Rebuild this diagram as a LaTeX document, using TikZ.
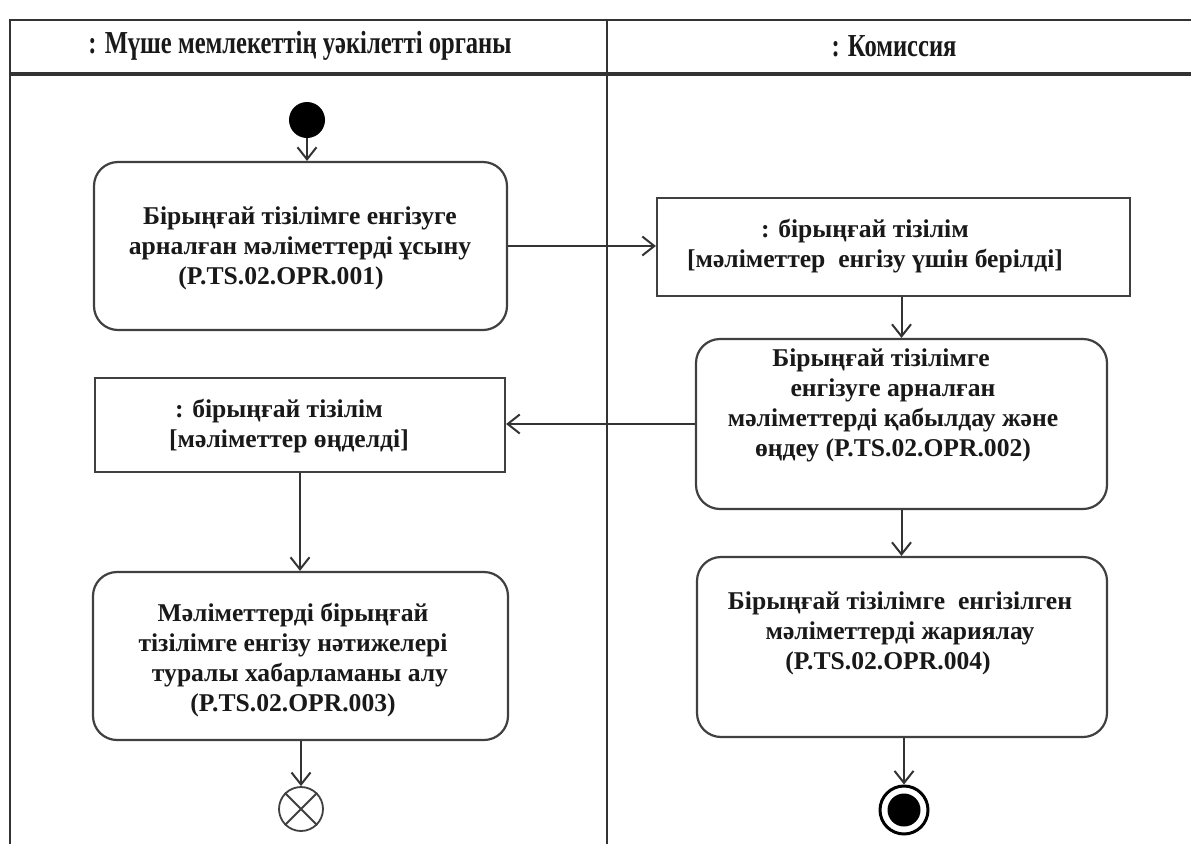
\documentclass[tikz,border=0pt]{standalone}
\usepackage{fontspec}
\setmainfont{Liberation Serif}
\usetikzlibrary{arrows.meta}
\newcommand\txtfont{\bfseries\fontsize{25.6}{30}\selectfont}
\newcommand\hdrfont{\bfseries\fontsize{25.6}{30}\selectfont}
\begin{document}
\begin{tikzpicture}[x=1pt,y=-1pt,
  frameline/.style={draw=black!80,line width=2.4pt},
  act/.style={draw=black!75,line width=2.2pt,rounded corners=24pt,fill=white,inner sep=0pt,align=center,font=\txtfont,text=black!90},
  obj/.style={draw=black!75,line width=2.2pt,fill=white,inner sep=0pt,align=center,font=\txtfont,text=black!90},
  arr/.style={draw=black!80,line width=2pt,-{Straight Barb[length=12pt,width=19pt]}},
  lbl/.style={inner sep=0pt,align=center,font=\txtfont,text=black!90},
  hdr/.style={inner sep=0pt,font=\hdrfont,text=black!90}
]
\useasboundingbox (0,0) rectangle (1191,844);
\fill[white] (0,0) rectangle (1191,844);
% swimlane frame
\draw[frameline] (10,844) -- (10,20) -- (1191,20);
\draw[frameline,line width=3.2pt] (10,74) -- (1191,74);
\draw[frameline] (607,20) -- (607,844);
\node[hdr] (h1) at (300,46) {\scalebox{0.96}[1.25]{: Мүше мемлекеттің уәкілетті органы}};
\node[hdr] (h2) at (894,46) {\scalebox{0.96}[1.25]{: Комиссия}};
% nodes
\node[circle,fill=black,minimum size=36pt,inner sep=0pt] (start) at (307,120) {};
\node[act,minimum width=413pt,minimum height=168pt] (box1) at (300.5,246) {};
\node[lbl] (t1) at (300,248) {Бірыңғай тізілімге енгізуге\\арналған мәліметтерді ұсыну\\(P.TS.02.OPR.001)\hspace*{38pt}};
\node[obj,minimum width=473pt,minimum height=98pt] (obj1) at (893.5,247) {};
\node[lbl] (t2) at (875,246) {: бірыңғай тізілім\hspace*{20pt}\\{}[мәліметтер~ енгізу үшін берілді]};
\node[act,minimum width=411pt,minimum height=170pt] (box2) at (901.5,424) {};
\node[lbl] (t3) at (893,405) {Бірыңғай тізілімге\hspace*{24pt}\\енгізуге арналған\hspace*{32pt}\\мәліметтерді қабылдау және\\өңдеу (P.TS.02.OPR.002)};
\node[obj,minimum width=410pt,minimum height=94pt] (obj2) at (300,425) {};
\node[lbl] (t4) at (289,426) {: бірыңғай тізілім\hspace*{20pt}\\{}[мәліметтер өңделді]};
\node[act,minimum width=415pt,minimum height=168pt] (box3) at (300.5,656) {};
\node[lbl] (t5) at (293,660) {Мәліметтерді бірыңғай\\тізілімге енгізу нәтижелері\\\hspace*{14pt}туралы хабарламаны алу\\(P.TS.02.OPR.003)};
\node[act,minimum width=410pt,minimum height=180pt] (box4) at (902,647) {};
\node[lbl] (t6) at (900,633) {Бірыңғай тізілімге~ енгізілген\\мәліметтерді жариялау\\(P.TS.02.OPR.004)\hspace*{24pt}};
\node[circle,draw=black!75,line width=1.8pt,minimum size=44pt,inner sep=0pt] (ff) at (301,809) {};
\draw[black!75,line width=1.8pt] (ff.north west) -- (ff.south east) (ff.north east) -- (ff.south west);
\node[circle,draw=black,line width=3pt,minimum size=48pt,inner sep=0pt] (fin) at (904,810) {};
\node[circle,fill=black,minimum size=33pt,inner sep=0pt] (fincore) at (fin.center) {};
% connectors
\draw[arr] (start.south) -- (start.south |- box1.north);
\draw[arr] (box1.east) -- (box1.east -| obj1.west);
\draw[arr] (box2.north |- obj1.south) -- (box2.north);
\draw[arr] (box2.west) -- (box2.west -| obj2.east);
\draw[arr] (obj2.south) -- (obj2.south |- box3.north);
\draw[arr] (box2.south) -- (box2.south |- box4.north);
\draw[arr] (box3.south -| ff.north) -- (ff.north);
\draw[arr] (box4.south -| fin.north) -- (fin.north);
\end{tikzpicture}
\end{document}
